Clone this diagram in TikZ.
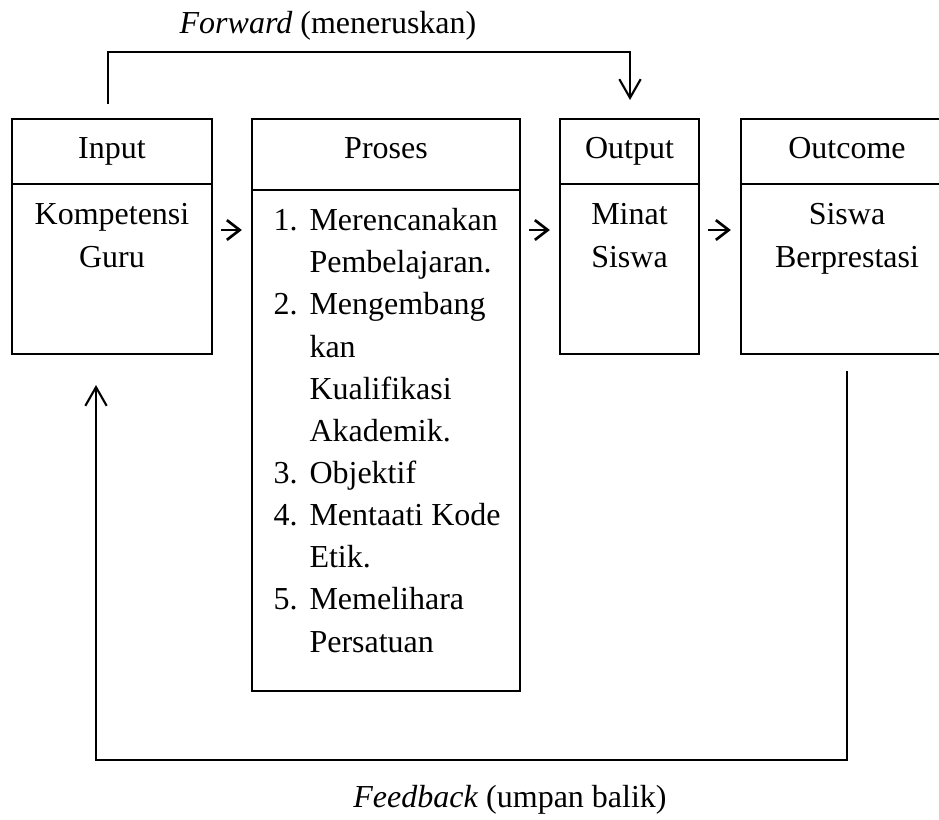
\documentclass[tikz,border=0pt]{standalone}
\usepackage{fontspec}
\setmainfont{Liberation Serif}
\usepackage{tikz}
\usetikzlibrary{arrows.meta}

\begin{document}
\begin{tikzpicture}[x=0.375pt, y=-0.375pt,
        every node/.style={font=\fontsize{12}{15.8}\selectfont},
        box/.style={draw, line width=0.6pt, inner sep=0pt, outer sep=0pt, anchor=north west},
        txt/.style={anchor=base, align=center, inner sep=0pt},
        smallarrow/.style={line width=1pt, -{Straight Barb[length=4.8pt,width=7.4pt]}, shorten <=3.3pt, shorten >=3.8pt},
        bigarrow/.style={line width=0.8pt, -{Straight Barb[length=7pt,width=8pt]}}]
            \useasboundingbox (0,0) rectangle (939,819);

            \node[box, minimum width=75pt, minimum height=88.125pt] (input) at (12,119) {};
            \node[box, minimum width=100.5pt, minimum height=214.5pt] (proses) at (252,119) {};
            \node[box, minimum width=52.125pt, minimum height=88.125pt] (output) at (560,119) {};
            \node[box, minimum width=79.5pt, minimum height=88.125pt] (outcome) at (741,119) {};

            \draw[line width=0.6pt] (input.north west) ++(0,65) -- ++(200,0);
            \draw[line width=0.6pt] (proses.north west) ++(0,71) -- ++(268,0);
            \draw[line width=0.6pt] (output.north west) ++(0,65) -- ++(139,0);
            \draw[line width=0.6pt] (outcome.north west) ++(0,65) -- ++(212,0);

            \node[txt] (inputhead) at (112,158) {Input};
            \node[txt] (inputtext) at (112,267) {Kompetensi\\Guru};
            \node[txt] (proseshead) at (386,158) {Proses};
            \node[anchor=base west, inner sep=0pt] (prosestext) at (273,652) {%
                \begin{tabular}[b]{@{}l@{\hspace{4.5pt}}l@{}}
                1. & Merencanakan\\
                   & Pembelajaran.\\
                2. & Mengembang\\
                   & kan\\
                   & Kualifikasi\\
                   & Akademik.\\
                3. & Objektif\\
                4. & Mentaati Kode\\
                   & Etik.\\
                5. & Memelihara\\
                   & Persatuan
                \end{tabular}};
            \node[txt] (outputhead) at (629.5,158) {Output};
            \node[txt] (outputtext) at (629.5,267) {Minat\\Siswa};
            \node[txt] (outcomehead) at (847,158) {Outcome};
            \node[txt] (outcometext) at (847,267) {Siswa\\Berprestasi};

            \draw[smallarrow] (input.east |- 0,230) -- (proses.west |- 0,230);
            \draw[smallarrow] (proses.east |- 0,230) -- (output.west |- 0,230);
            \draw[smallarrow] (output.east |- 0,230) -- (outcome.west |- 0,230);

            \node[txt] (fwdlabel) at (328,33) {\textit{Forward} (meneruskan)};
            \coordinate (fwdstart) at (108,104);
            \coordinate (fwdend) at (630,100);
            \draw[bigarrow] (fwdstart) -- (108,52) -| (fwdend);

            \node[txt] (fblabel) at (510,807) {\textit{Feedback} (umpan balik)};
            \coordinate (fbstart) at (847,371);
            \coordinate (fbend) at (96,385);
            \draw[bigarrow] (fbstart) -- (847,760) -| (fbend);
        \end{tikzpicture}
\end{document}
